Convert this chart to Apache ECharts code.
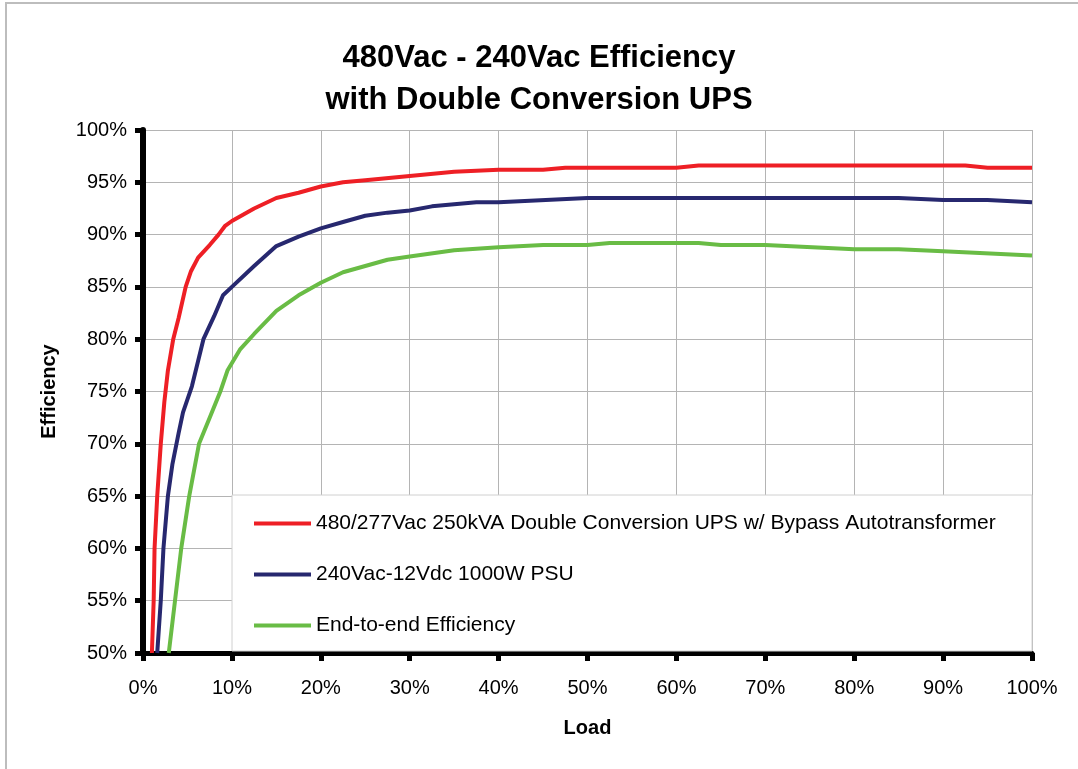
<!DOCTYPE html>
<html>
<head>
<meta charset="utf-8">
<script src="https://cdn.jsdelivr.net/npm/echarts@6/dist/echarts.min.js"></script>
<style>
  html, body { margin: 0; padding: 0; background: #fff; }
  #chart { width: 1078px; height: 769px; }
</style>
</head>
<body>
<div id="chart"></div>
<script>
// load (%) and efficiency (%)
var upsLoad = [1.0, 1.2, 1.3, 1.6, 2.0, 2.4, 2.8, 3.4, 4.0, 4.8, 5.4, 6.2, 7.5, 8.5, 9.2, 10, 12.5, 15, 17.5, 20, 22.5, 25, 30, 35, 40, 45, 47.5, 50, 60, 62.5, 65, 70, 80, 90, 92.5, 95, 100];
var upsEff  = [50, 55, 60, 65, 70, 74, 77, 80, 82, 85, 86.5, 87.8, 89, 90, 90.8, 91.3, 92.5, 93.5, 94, 94.6, 95, 95.2, 95.6, 96, 96.2, 96.2, 96.4, 96.4, 96.4, 96.6, 96.6, 96.6, 96.6, 96.6, 96.6, 96.4, 96.4];

var psuLoad = [1.6, 2.0, 2.3, 2.8, 3.3, 4.0, 4.5, 5.5, 6.8, 8, 9, 10, 12.5, 15, 17.5, 20, 22.5, 25, 27.5, 30, 32.5, 37.5, 40, 50, 60, 70, 80, 85, 90, 95, 100];
var psuEff  = [50, 55, 60, 65, 68, 71, 73, 75.5, 80, 82.2, 84.2, 85, 87, 88.9, 89.8, 90.6, 91.2, 91.8, 92.1, 92.3, 92.7, 93.1, 93.1, 93.5, 93.5, 93.5, 93.5, 93.5, 93.3, 93.3, 93.1];

var e2eLoad = [2.9, 3.6, 4.3, 5.2, 6.3, 7.5, 8.7, 9.5, 10.9, 12.5, 15, 17.5, 20, 22.5, 25, 27.5, 30, 35, 40, 45, 50, 52.5, 60, 62.5, 65, 70, 80, 85, 90, 100];
var e2eEff  = [50, 55, 60, 65, 70, 72.5, 75, 77, 79, 80.5, 82.7, 84.2, 85.4, 86.4, 87, 87.6, 87.9, 88.5, 88.8, 89, 89, 89.2, 89.2, 89.2, 89, 89, 88.6, 88.6, 88.4, 88.0];

var seriesNames = [
  '480/277Vac 250kVA Double Conversion UPS w/ Bypass Autotransformer',
  '240Vac-12Vdc 1000W PSU',
  'End-to-end Efficiency'
];
var seriesColors = ['#ee1f25', '#27286f', '#69bc45'];

function pairs(xs, ys) {
  return xs.map(function (x, i) { return [x, ys[i]]; });
}

var font = 'Liberation Sans, Arial, sans-serif';
var chart = echarts.init(document.getElementById('chart'));

var option = {
  backgroundColor: '#fff',
  animation: false,
  title: {
    text: '480Vac - 240Vac Efficiency\nwith Double Conversion UPS',
    left: 'center',
    top: 32,
    textStyle: { fontFamily: font, fontSize: 31, fontWeight: 'bold', color: '#000', lineHeight: 42 }
  },
  grid: { left: 143, right: 46, top: 130, bottom: 116 },
  // outer border + legend box
  graphic: [
    { type: 'rect', z: 3, shape: { x: 6, y: 3, width: 1200, height: 900 }, style: { fill: 'none', stroke: '#bdbdbd', lineWidth: 2 } },
    { type: 'rect', z: 3, shape: { x: 232, y: 495, width: 800, height: 156 }, style: { fill: '#fff', stroke: '#d0d0d0', lineWidth: 1 } }
  ],
  legend: {
    orient: 'vertical',
    left: 249,
    top: 508,
    padding: 5,
    itemWidth: 57,
    itemHeight: 4,
    itemGap: 30,
    icon: 'rect',
    data: seriesNames,
    textStyle: { fontFamily: font, fontSize: 21, color: '#000' }
  },
  xAxis: {
    type: 'value',
    min: 0, max: 100, interval: 10,
    name: 'Load',
    nameLocation: 'middle',
    nameGap: 65,
    nameTextStyle: { fontFamily: font, fontSize: 20, fontWeight: 'bold', color: '#000' },
    axisLine: { show: true, lineStyle: { color: '#000', width: 5 } },
    axisTick: { show: true, inside: false, length: 8, lineStyle: { color: '#000', width: 5 } },
    axisLabel: { formatter: '{value}%', margin: 25, fontFamily: font, fontSize: 20, color: '#000' },
    splitLine: { show: true, lineStyle: { color: '#b4b4b4', width: 1 } }
  },
  yAxis: {
    type: 'value',
    min: 50, max: 100, interval: 5,
    name: 'Efficiency',
    nameLocation: 'middle',
    nameGap: 84,
    nameTextStyle: { fontFamily: font, fontSize: 20, fontWeight: 'bold', color: '#000' },
    axisLine: { show: true, lineStyle: { color: '#000', width: 6 } },
    axisTick: { show: true, inside: false, length: 8, lineStyle: { color: '#000', width: 5 } },
    axisLabel: { formatter: '{value}%', margin: 16, fontFamily: font, fontSize: 20, color: '#000' },
    splitLine: { show: true, lineStyle: { color: '#b4b4b4', width: 1 } }
  },
  series: [
    { name: seriesNames[0], type: 'line', data: pairs(upsLoad, upsEff) },
    { name: seriesNames[1], type: 'line', data: pairs(psuLoad, psuEff) },
    { name: seriesNames[2], type: 'line', data: pairs(e2eLoad, e2eEff) }
  ].map(function (s, i) {
    s.showSymbol = false;
    s.symbol = 'none';
    s.color = seriesColors[i];
    s.lineStyle = { width: 4, color: seriesColors[i] };
    s.itemStyle = { color: seriesColors[i] };
    return s;
  })
};

chart.setOption(option);
</script>
</body>
</html>
